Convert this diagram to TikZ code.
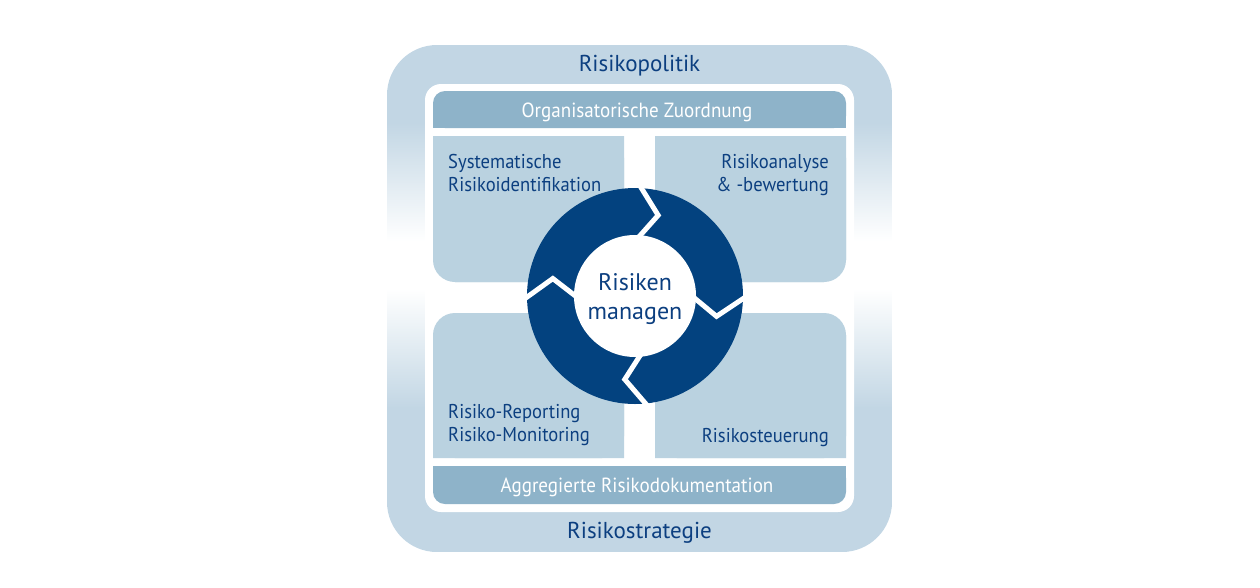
\documentclass[tikz,border=0pt]{standalone}
\usepackage{fontspec}
\setmainfont{PT Sans}[FakeStretch=0.93]
\newfontfamily\widefont{PT Sans}
\usepackage{tikz}
\usetikzlibrary{calc}

\definecolor{frameblue}{HTML}{C2D6E4}
\definecolor{boxblue}{HTML}{BAD2E0}
\definecolor{barblue}{HTML}{8EB3C9}
\definecolor{ringblue}{HTML}{03427F}
\definecolor{textblue}{HTML}{0C3F80}

\begin{document}
\begin{tikzpicture}[x=1pt,
            y=-1pt,
            box/.style={fill=boxblue},
            bar/.style={fill=barblue},
            label/.style={font=\fontsize{20}{23}\selectfont, text=textblue, inner sep=0pt},
            biglabel/.style={label, font=\widefont\fontsize{23}{29}\selectfont},
            barlabel/.style={label, font=\fontsize{20.5}{23}\selectfont, text=white},
            gap/.style={draw=white, line width=5pt}]

        \useasboundingbox (0,0) rectangle (1260,587);

        % frame, fading to white in the middle
        \begin{scope}
            \clip[rounded corners=50] (387,45) rectangle (892,552);
            \fill[frameblue] (387,45) rectangle (892,124);
            \shade[top color=frameblue, bottom color=white] (387,123) rectangle (892,241);
            \shade[top color=white, bottom color=frameblue] (387,289) rectangle (892,408);
            \fill[frameblue] (387,407) rectangle (892,552);
        \end{scope}
        \fill[white, rounded corners=16] (425,84) rectangle (854,512);

        % bars
        \fill[bar, rounded corners=12] (433,91) rectangle (846,128);
        \fill[bar] (433,110) rectangle (846,128);
        \fill[bar, rounded corners=12] (433,466) rectangle (846,504);
        \fill[bar] (433,466) rectangle (846,485);

        % quadrants
        \fill[box, rounded corners=22] (433,136) rectangle (624,282);
        \fill[box] (433,136) rectangle (624,260) (455,136) rectangle (624,282);
        \fill[box, rounded corners=22] (655,136) rectangle (846,282);
        \fill[box] (655,136) rectangle (846,260) (655,136) rectangle (824,282);
        \fill[box, rounded corners=22] (433,313) rectangle (624,458);
        \fill[box] (433,335) rectangle (624,458) (455,313) rectangle (624,458);
        \fill[box, rounded corners=22] (655,313) rectangle (846,458);
        \fill[box] (655,335) rectangle (846,458) (655,313) rectangle (824,458);

        % cycle
        \coordinate (c) at (635,296);
        \fill[ringblue] (c) circle[radius=108];
        \fill[white] (c) circle[radius=61];
        \foreach \a in {-88,0,83,178}
            \draw[gap] ($(c)+(\a:112)$) -- ($(c)+(\a+14:84)$) -- ($(c)+(\a:57)$);

        \node[biglabel, anchor=base]                (politik)   at (639.5,71) {Risikopolitik};
        \node[barlabel, anchor=base]                (zuordnung) at (637,117)  {Organisatorische Zuordnung};
        \node[label, anchor=base west, align=left]  (ident)     at (448,191)  {Systematische\\Risikoidentifikation};
        \node[label, anchor=base east, align=right] (analyse)   at (829,191)  {Risikoanalyse\\\& -bewertung};
        \node[label, anchor=base west, align=left]  (reporting) at (448,441)  {Risiko-Reporting\\Risiko-Monitoring};
        \node[label, anchor=base east]              (steuerung) at (829,442)  {Risikosteuerung};
        \node[barlabel, anchor=base]                (doku)      at (637,492)  {Aggregierte Risikodokumentation};
        \node[biglabel, anchor=base]                (strategie) at (639.5,538) {Risikostrategie};
        \node[biglabel, anchor=base, align=center, font=\widefont\fontsize{24}{29}\selectfont]
                                                    (center)    at (635,319)  {Risiken\\managen};

    \end{tikzpicture}
\end{document}
